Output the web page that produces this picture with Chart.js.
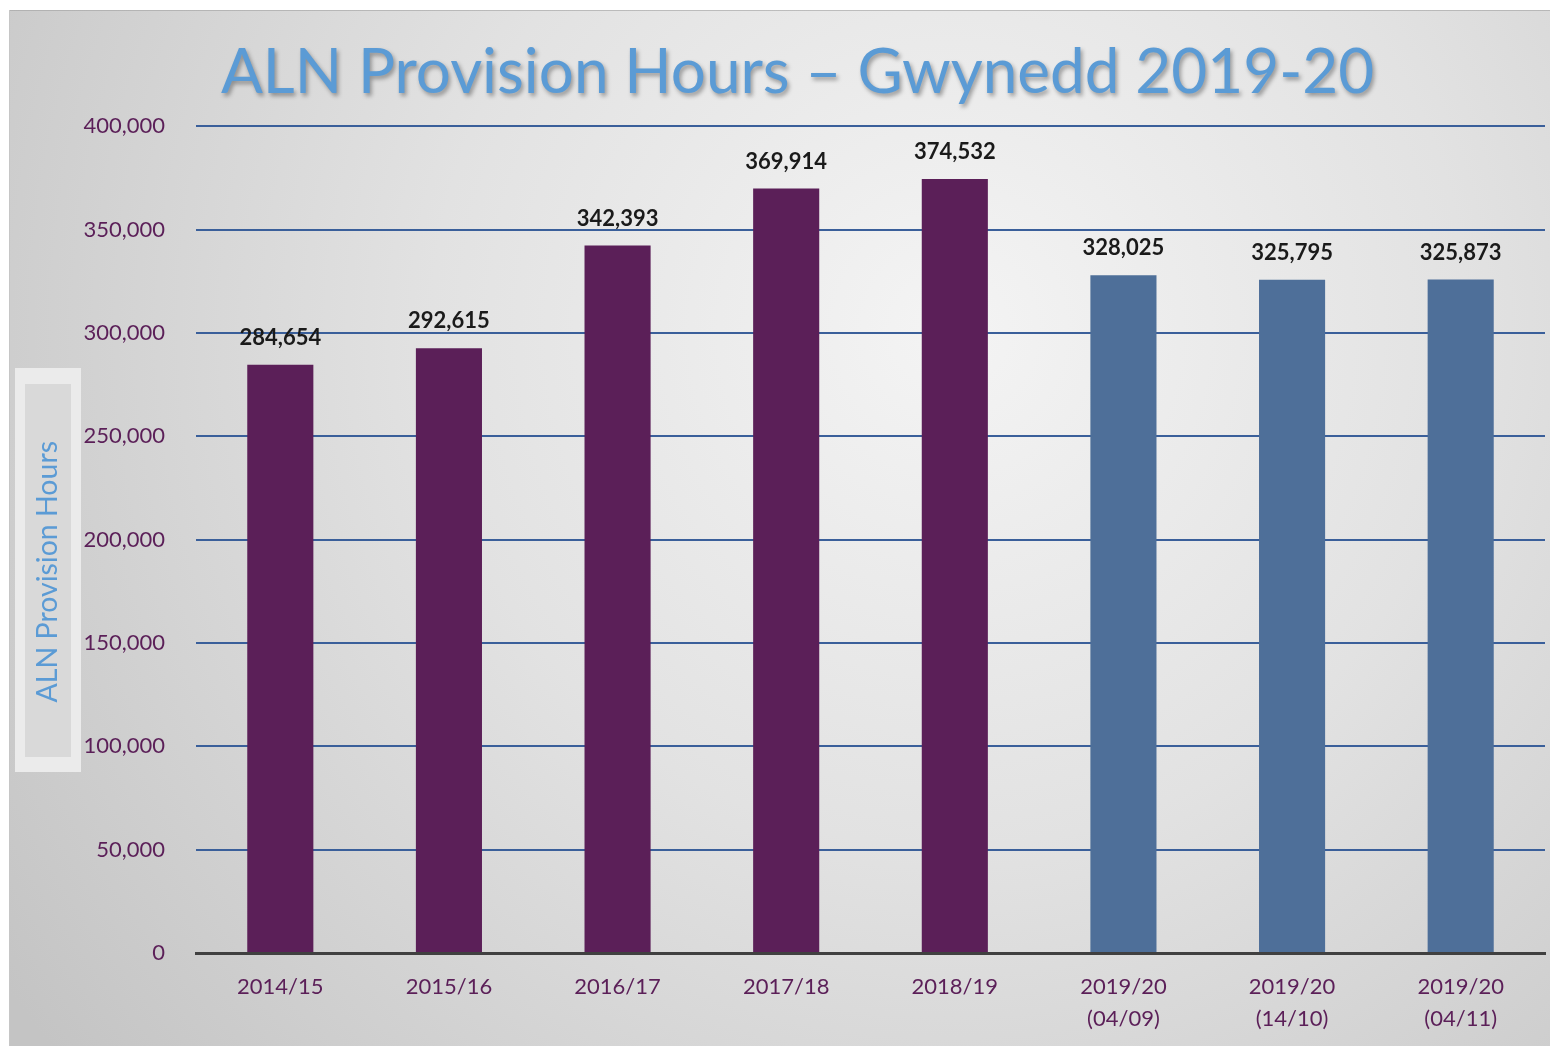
<!DOCTYPE html>
<html>
<head>
<meta charset="utf-8">
<script src="https://cdn.jsdelivr.net/npm/chart.js@4.4.1/dist/chart.umd.min.js"></script>
<style>
  html, body { margin: 0; padding: 0; background: #ffffff; }
  #wrap { width: 1550px; height: 1046px; position: relative; }
</style>
</head>
<body>
<div id="wrap"><canvas id="c" width="1550" height="1046"></canvas></div>
<script>
// ---- data ----
const categories = [
  ['2014/15'], ['2015/16'], ['2016/17'], ['2017/18'], ['2018/19'],
  ['2019/20', '(04/09)'], ['2019/20', '(14/10)'], ['2019/20', '(04/11)']
];
const provisionHours = [284654, 292615, 342393, 369914, 374532, 328025, 325795, 325873];
const periodType = ['year', 'year', 'year', 'year', 'year', 'snapshot', 'snapshot', 'snapshot'];
const yTicks = [0, 50000, 100000, 150000, 200000, 250000, 300000, 350000, 400000];
const chartTitle = 'ALN Provision Hours \u2013 Gwynedd 2019-20';
const yTitle = 'ALN Provision Hours';

// ---- styles ----
const PURPLE = '#5b1f58';
const BLUE = '#4e6f99';
const FONT = 'Lato, "Open Sans", sans-serif';

const backgroundPlugin = {
  id: 'panelBackground',
  beforeDraw(chart) {
    const ctx = chart.ctx;
    const W = chart.width, H = chart.height;
    ctx.save();
    ctx.fillStyle = '#ffffff';
    ctx.fillRect(0, 0, W, H);
    const g = ctx.createRadialGradient(950, 330, 0, 950, 330, 1150);
    g.addColorStop(0, '#f4f4f4');
    g.addColorStop(0.45, '#e2e2e2');
    g.addColorStop(1, '#c4c4c4');
    ctx.fillStyle = g;
    ctx.fillRect(10, 10, W - 10, H - 10);
    ctx.strokeStyle = 'rgba(160,160,160,0.6)';
    ctx.lineWidth = 1;
    ctx.beginPath();
    ctx.moveTo(10, 10.5); ctx.lineTo(W, 10.5);
    ctx.moveTo(9.5, 10); ctx.lineTo(9.5, H);
    ctx.stroke();
    // y title box
    ctx.fillStyle = '#ebebeb';
    ctx.fillRect(15, 368, 66, 404);
    ctx.fillStyle = '#d9d9d9';
    ctx.fillRect(25, 384, 46, 373);
    ctx.restore();
  },
  afterLayout(chart) {
    const tb = chart.titleBlock;
    if (tb && !tb._wrapped) {
      const orig = tb.draw.bind(tb);
      tb.draw = function () {
        const ctx = chart.ctx;
        ctx.save();
        ctx.translate(10, 2);
        ctx.shadowColor = 'rgba(0,0,0,0.35)';
        ctx.shadowBlur = 4;
        ctx.shadowOffsetX = 2;
        ctx.shadowOffsetY = 3;
        orig();
        ctx.restore();
      };
      tb._wrapped = true;
    }
    const ys = chart.scales.y;
    if (ys && !ys._titleWrapped) {
      const origT = ys.drawTitle.bind(ys);
      ys.drawTitle = function () {
        const ctx = chart.ctx;
        ctx.save();
        ctx.translate(1, 32);
        origT();
        ctx.restore();
      };
      ys._titleWrapped = true;
    }
  }
};

const valueLabelPlugin = {
  id: 'valueLabels',
  afterDatasetsDraw(chart) {
    const ctx = chart.ctx;
    const meta = chart.getDatasetMeta(0);
    ctx.save();
    ctx.font = 'bold 22px ' + FONT;
    ctx.fillStyle = '#1a1a1a';
    ctx.textAlign = 'center';
    ctx.textBaseline = 'middle';
    meta.data.forEach((bar, i) => {
      const v = chart.data.datasets[0].data[i];
      ctx.fillText(v.toLocaleString('en-US'), bar.x, bar.y - 27);
    });
    ctx.restore();
  }
};

new Chart(document.getElementById('c'), {
  type: 'bar',
  data: {
    labels: categories,
    datasets: [{
      label: yTitle,
      data: provisionHours,
      backgroundColor: (c) => periodType[c.dataIndex] === 'year' ? PURPLE : BLUE,
      borderWidth: 0,
      categoryPercentage: 0.8,
      barPercentage: 0.49
    }]
  },
  options: {
    responsive: false,
    animation: false,
    devicePixelRatio: 1,
    layout: { padding: { left: 30, right: 5, top: 10, bottom: 0 } },
    plugins: {
      legend: { display: false },
      tooltip: { enabled: false },
      title: {
        display: true,
        text: chartTitle,
        color: '#5b9bd5',
        font: { family: FONT, size: 62, weight: 'normal' },
        padding: { top: 24, bottom: 18 }
      }
    },
    scales: {
      x: {
        grid: { display: false, drawTicks: false },
        border: { display: true, color: '#404040', width: 3 },
        ticks: {
          color: PURPLE,
          font: { family: FONT, size: 22, lineHeight: 1.45 },
          padding: 18,
          maxRotation: 0,
          autoSkip: false
        },
        afterFit(scale) { scale.height = 93; }
      },
      y: {
        min: 0,
        max: 400000,
        afterBuildTicks(scale) { scale.ticks = yTicks.map(v => ({ value: v })); },
        grid: {
          color: (c) => c.tick && c.tick.value === 0 ? 'rgba(0,0,0,0)' : '#3a5f9a',
          lineWidth: 2,
          drawTicks: false
        },
        border: { display: false },
        ticks: {
          color: PURPLE,
          font: { family: FONT, size: 22 },
          padding: 31,
          callback: (v) => Number(v).toLocaleString('en-US')
        },
        title: {
          display: true,
          text: yTitle,
          color: '#5b9bd5',
          font: { family: FONT, size: 28.5 },
          padding: { top: 0, bottom: 0 }
        },
        afterFit(scale) { scale.width = 166; }
      }
    }
  },
  plugins: [backgroundPlugin, valueLabelPlugin]
});
</script>
</body>
</html>
